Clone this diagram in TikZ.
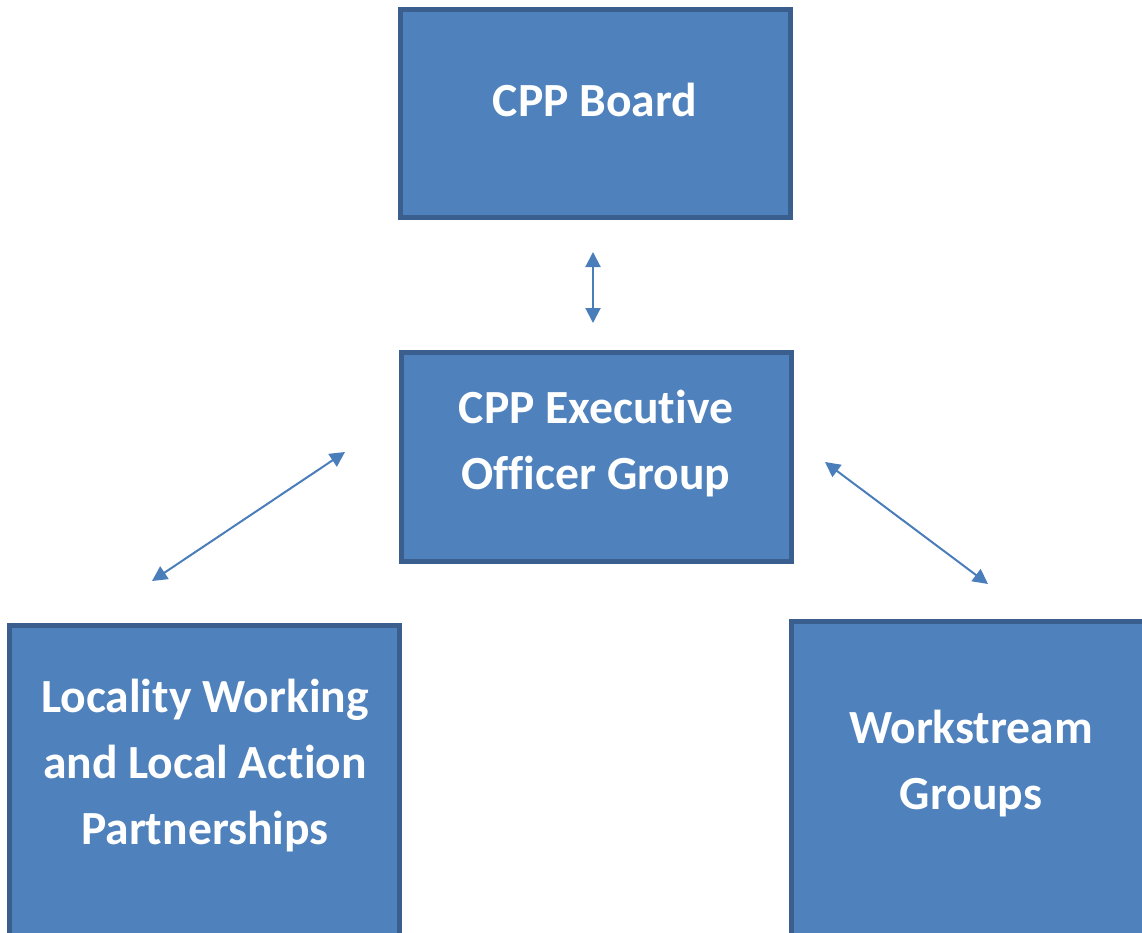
\documentclass[tikz,border=0pt]{standalone}
\usepackage{fontspec}
\setmainfont[Ligatures={NoCommon}]{Carlito}
\usetikzlibrary{arrows.meta}
\definecolor{boxfill}{HTML}{4F81BD}
\definecolor{boxedge}{HTML}{3A5F8F}
\definecolor{arrowcol}{HTML}{4A7EBB}
\tikzset{
  orgbox/.style={draw=boxedge, line width=5pt, fill=boxfill, rectangle, inner sep=0pt},
  orglabel/.style={text=white, font=\fontsize{47.6pt}{66pt}\selectfont\bfseries, align=center, inner sep=0pt},
  link/.style={draw=arrowcol, line width=2pt, {Triangle[length=15pt,width=15pt]}-{Triangle[length=15pt,width=15pt]}}
}
\begin{document}
\begin{tikzpicture}[x=1pt,y=-1pt]
\useasboundingbox (0,0) rectangle (1142,933);
\clip (0,0) rectangle (1142,933);
\node[orgbox, minimum width=390pt, minimum height=208pt] (board) at (595.5,113.5) {};
\node[orgbox, minimum width=390pt, minimum height=209pt] (exec) at (596.5,457) {};
\node[orgbox, minimum width=390pt, minimum height=330pt, anchor=north west] (local) at (7,623) {};
\node[orgbox, minimum width=370pt, minimum height=330pt, anchor=north west] (work) at (789,619) {};
\node[orglabel] (boardtxt) at (595,100) {CPP Board};
\node[orglabel] (exectxt) at (596,444) {CPP Executive\\Officer Group};
\node[orglabel] (localtxt) at (205,766) {Locality Working\\and Local Action\\Partnerships};
\node[orglabel] (worktxt) at (971,764) {Workstream\\Groups};
\coordinate (a1) at (593,252);
\coordinate (a2) at (593,323);
\coordinate (b1) at (345,452);
\coordinate (b2) at (152,581);
\coordinate (c1) at (825,462);
\coordinate (c2) at (988,584);
\draw[link] (a1) -- (a2);
\draw[link] (b1) -- (b2);
\draw[link] (c1) -- (c2);
\end{tikzpicture}
\end{document}
